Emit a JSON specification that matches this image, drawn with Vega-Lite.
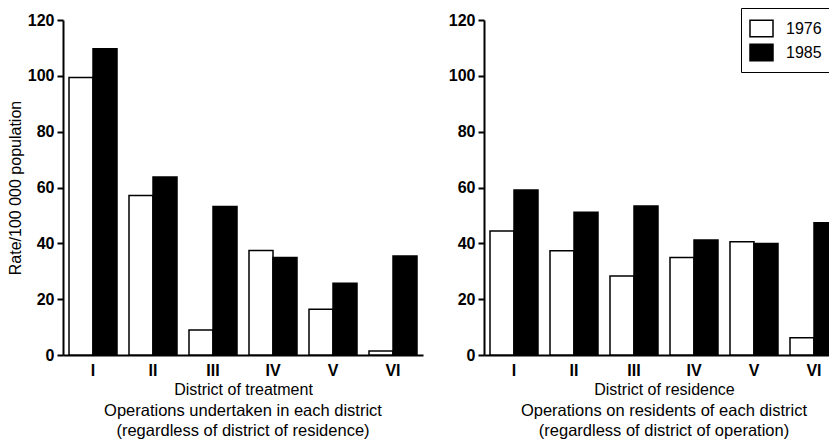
{
  "$schema": "https://vega.github.io/schema/vega-lite/v6.json",
  "padding": {"left": 7, "right": 0, "top": 7, "bottom": 0},
  "background": "white",
  "config": {
    "view": {"stroke": null},
    "font": "Liberation Sans",
    "axis": {
      "grid": false,
      "domainColor": "black",
      "domainWidth": 2,
      "tickColor": "black",
      "tickWidth": 2,
      "labelColor": "black",
      "titleColor": "black",
      "labelFont": "Liberation Sans",
      "titleFont": "Liberation Sans",
      "labelFontWeight": "bold",
      "labelFontSize": 16,
      "titleFontSize": 16,
      "titleFontWeight": "normal"
    },
    "axisX": {"ticks": false, "labelPadding": 7, "titlePadding": 3, "labelAngle": 0},
    "axisY": {"tickSize": 6, "labelPadding": 3, "titlePadding": 4},
    "title": {"font": "Liberation Sans", "fontSize": 16.5, "fontWeight": "normal", "color": "black", "lineHeight": 20, "orient": "bottom", "frame": "group", "offset": 6}
  },
  "data": {"values": [
    {"panel": "treatment", "district": "I", "year": "1976", "rate": 99.4},
    {"panel": "treatment", "district": "I", "year": "1985", "rate": 109.7},
    {"panel": "treatment", "district": "II", "year": "1976", "rate": 57.1},
    {"panel": "treatment", "district": "II", "year": "1985", "rate": 63.8},
    {"panel": "treatment", "district": "III", "year": "1976", "rate": 9.0},
    {"panel": "treatment", "district": "III", "year": "1985", "rate": 53.2},
    {"panel": "treatment", "district": "IV", "year": "1976", "rate": 37.4},
    {"panel": "treatment", "district": "IV", "year": "1985", "rate": 34.9},
    {"panel": "treatment", "district": "V", "year": "1976", "rate": 16.4},
    {"panel": "treatment", "district": "V", "year": "1985", "rate": 25.7},
    {"panel": "treatment", "district": "VI", "year": "1976", "rate": 1.4},
    {"panel": "treatment", "district": "VI", "year": "1985", "rate": 35.5},
    {"panel": "residence", "district": "I", "year": "1976", "rate": 44.4},
    {"panel": "residence", "district": "I", "year": "1985", "rate": 59.1},
    {"panel": "residence", "district": "II", "year": "1976", "rate": 37.3},
    {"panel": "residence", "district": "II", "year": "1985", "rate": 51.1},
    {"panel": "residence", "district": "III", "year": "1976", "rate": 28.3},
    {"panel": "residence", "district": "III", "year": "1985", "rate": 53.4},
    {"panel": "residence", "district": "IV", "year": "1976", "rate": 34.9},
    {"panel": "residence", "district": "IV", "year": "1985", "rate": 41.2},
    {"panel": "residence", "district": "V", "year": "1976", "rate": 40.6},
    {"panel": "residence", "district": "V", "year": "1985", "rate": 39.9},
    {"panel": "residence", "district": "VI", "year": "1976", "rate": 6.2},
    {"panel": "residence", "district": "VI", "year": "1985", "rate": 47.4}
  ]},
  "spacing": 25,
  "resolve": {"legend": {"fill": "independent"}},
  "hconcat": [
    {
      "width": 360,
      "height": 335,
      "title": {"text": ["Operations undertaken in each district", "(regardless of district of residence)"]},
      "transform": [{"filter": "datum.panel === 'treatment'"}],
      "mark": {"type": "bar", "stroke": "black", "strokeWidth": 1.5},
      "encoding": {
        "x": {"field": "district", "type": "nominal", "sort": ["I", "II", "III", "IV", "V", "VI"], "scale": {"paddingInner": 0.2, "paddingOuter": 0.1}, "axis": {"title": "District of treatment"}},
        "xOffset": {"field": "year", "type": "nominal", "sort": ["1976", "1985"]},
        "y": {"field": "rate", "type": "quantitative", "scale": {"domain": [0, 120]}, "axis": {"title": "Rate/100 000 population", "values": [0, 20, 40, 60, 80, 100, 120]}},
        "fill": {"field": "year", "type": "nominal", "scale": {"domain": ["1976", "1985"], "range": ["white", "black"]}, "legend": null}
      }
    },
    {
      "width": 360,
      "height": 335,
      "title": {"text": ["Operations on residents of each district", "(regardless of district of operation)"]},
      "transform": [{"filter": "datum.panel === 'residence'"}],
      "mark": {"type": "bar", "stroke": "black", "strokeWidth": 1.5},
      "encoding": {
        "x": {"field": "district", "type": "nominal", "sort": ["I", "II", "III", "IV", "V", "VI"], "scale": {"paddingInner": 0.2, "paddingOuter": 0.1}, "axis": {"title": "District of residence"}},
        "xOffset": {"field": "year", "type": "nominal", "sort": ["1976", "1985"]},
        "y": {"field": "rate", "type": "quantitative", "scale": {"domain": [0, 120]}, "axis": {"title": null, "values": [0, 20, 40, 60, 80, 100, 120]}},
        "fill": {"field": "year", "type": "nominal", "scale": {"domain": ["1976", "1985"], "range": ["white", "black"]},
          "legend": {"title": null, "orient": "none", "legendX": 257, "legendY": -12, "strokeColor": "black", "padding": 8, "fillColor": "white", "symbolType": "M-1,-0.72L1,-0.72L1,0.72L-1,0.72Z", "symbolSize": 529, "symbolStrokeColor": "black", "symbolStrokeWidth": 1.5, "labelFontSize": 16, "labelFont": "Liberation Sans", "labelColor": "black", "labelOffset": 12, "rowPadding": -3}}
      }
    }
  ]
}
